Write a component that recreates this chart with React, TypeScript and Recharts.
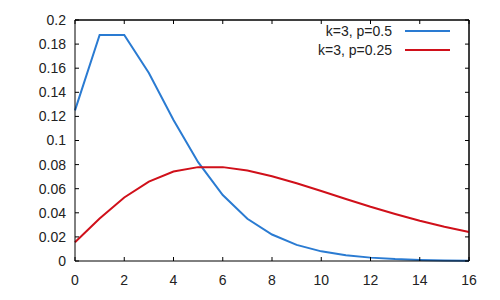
import { LineChart, Line, XAxis, YAxis, ReferenceLine } from "recharts";

// x values 0..16
const xs = [0, 1, 2, 3, 4, 5, 6, 7, 8, 9, 10, 11, 12, 13, 14, 15, 16];
// k=3, p=0.5
const halfP = [
  0.125, 0.1875, 0.1875, 0.156, 0.117, 0.082, 0.0547, 0.035, 0.022, 0.0134, 0.008,
  0.0048, 0.0028, 0.0016, 0.0009, 0.0005, 0.0003,
];
// k=3, p=0.25
const quarterP = [
  0.0156, 0.0352, 0.0527, 0.0659, 0.0742, 0.0779, 0.0779, 0.0751, 0.0704, 0.0645, 0.0581,
  0.0515, 0.045, 0.039, 0.0334, 0.0284, 0.024,
];
const seriesNames = ["k=3, p=0.5", "k=3, p=0.25"];
const seriesColors = ["#2a7bd2", "#d0101a"];
const xTicks = [0, 2, 4, 6, 8, 10, 12, 14, 16];
const yTicks = [0, 0.02, 0.04, 0.06, 0.08, 0.1, 0.12, 0.14, 0.16, 0.18, 0.2];

const data = xs.map((x, i) => ({ x, a: halfP[i], b: quarterP[i] }));

const font = "'Liberation Sans', Arial, sans-serif";
const tickStyle = { fill: "#222", fontSize: 14, fontFamily: font };
const blank = () => "";

// key box drawn over the chart, top right, like gnuplot's
const Key = () => (
  <div style={{ position: "absolute", top: 22, left: 0, width: 500, height: 40, pointerEvents: "none" }}>
    {seriesNames.map((name, i) => (
      <div key={name} style={{ position: "absolute", top: i * 19, left: 0, width: 500, height: 18 }}>
        <span
          style={{
            position: "absolute",
            right: 108,
            top: 0,
            fontFamily: font,
            fontSize: 14,
            lineHeight: "18px",
            color: "#222",
            whiteSpace: "nowrap",
          }}
        >
          {name}
        </span>
        <span
          style={{
            position: "absolute",
            left: 405,
            top: 8,
            width: 45,
            height: 2,
            background: seriesColors[i],
          }}
        />
      </div>
    ))}
  </div>
);

export default function App() {
  return (
    <div style={{ position: "absolute", left: 0, top: 0, width: 500, height: 300 }}>
      <LineChart width={500} height={300} data={data} margin={{ top: 0, right: 0, bottom: 0, left: 0 }}>
        <XAxis
          dataKey="x"
          type="number"
          domain={[0, 16]}
          ticks={xTicks}
          interval={0}
          height={39}
          stroke="#000"
          tickSize={-4}
          tickMargin={18}
          tick={tickStyle}
        />
        {/* mirrored top/right axes give the closed frame with inward ticks */}
        <XAxis
          xAxisId="top"
          dataKey="x"
          type="number"
          orientation="top"
          domain={[0, 16]}
          ticks={xTicks}
          interval={0}
          height={20}
          stroke="#000"
          tickSize={-4}
          tickFormatter={blank}
        />
        <YAxis
          type="number"
          domain={[0, 0.2]}
          ticks={yTicks}
          interval={0}
          width={75}
          stroke="#000"
          tickSize={-4}
          tickMargin={13}
          tick={tickStyle}
        />
        <YAxis
          yAxisId="right"
          orientation="right"
          type="number"
          domain={[0, 0.2]}
          ticks={yTicks}
          interval={0}
          width={31}
          stroke="#000"
          tickSize={-4}
          tickFormatter={blank}
        />
        <ReferenceLine y={0.2} stroke="#000" />
        <ReferenceLine x={16} stroke="#000" />
        <Line
          dataKey="a"
          name={seriesNames[0]}
          stroke={seriesColors[0]}
          strokeWidth={2}
          dot={false}
          isAnimationActive={false}
        />
        <Line
          dataKey="b"
          name={seriesNames[1]}
          stroke={seriesColors[1]}
          strokeWidth={2}
          dot={false}
          isAnimationActive={false}
        />
        <Line
          dataKey="a"
          xAxisId="top"
          yAxisId="right"
          stroke="none"
          dot={false}
          isAnimationActive={false}
        />
      </LineChart>
      <Key />
    </div>
  );
}
